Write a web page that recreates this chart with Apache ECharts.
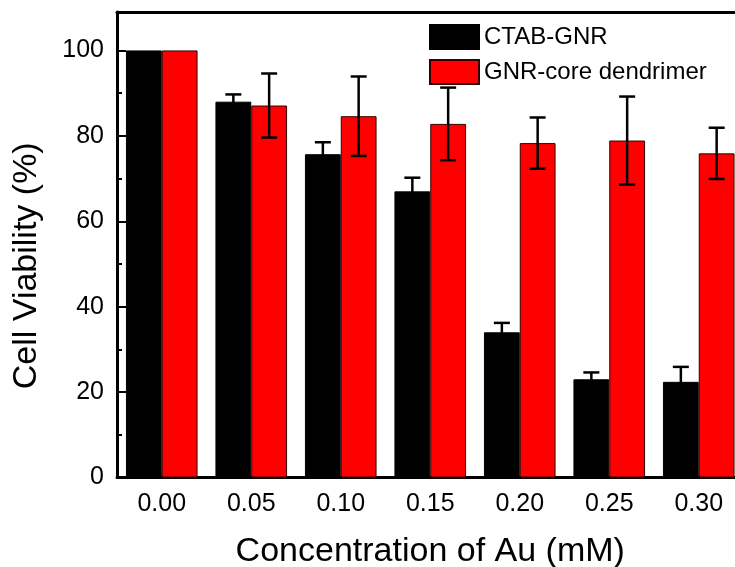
<!DOCTYPE html>
<html>
<head>
<meta charset="utf-8">
<title>Cell viability</title>
<script src="https://cdn.jsdelivr.net/npm/echarts@6/dist/echarts.min.js"></script>
</head>
<body style="margin:0;padding:0;background:#fff">
<div id="chart" style="width:735px;height:567px"></div>
<script>
var concentrations = ['0.00', '0.05', '0.10', '0.15', '0.20', '0.25', '0.30'];
var ctab = [100, 88.0, 75.7, 67.0, 34.0, 23.0, 22.4];
var ctabErr = [0, 1.7, 2.8, 3.2, 2.2, 1.6, 3.5];
var dend = [100, 87.1, 84.6, 82.8, 78.3, 78.9, 75.9];
var dendErr = [0, 7.5, 9.3, 8.5, 6.0, 10.3, 6.0];

var font = 'Arial, "Liberation Sans", sans-serif';

function errData(vals, errs) {
  return vals.map(function (v, i) {
    return [i, v - errs[i], v + errs[i], errs[i]];
  });
}

function errRenderer(offset) {
  return function (params, api) {
    if (api.value(3) === 0) return;
    var bw = api.size([1, 0])[0];
    var top = api.coord([api.value(0), api.value(2)]);
    var bot = api.coord([api.value(0), api.value(1)]);
    var x = top[0] + offset * bw;
    var cap = 8;
    var style = { stroke: '#000', lineWidth: 2.5 };
    return {
      type: 'group',
      children: [
        { type: 'line', shape: { x1: x, y1: top[1], x2: x, y2: bot[1] }, style: style },
        { type: 'line', shape: { x1: x - cap, y1: top[1], x2: x + cap, y2: top[1] }, style: style },
        { type: 'line', shape: { x1: x - cap, y1: bot[1], x2: x + cap, y2: bot[1] }, style: style }
      ]
    };
  };
}

var chart = echarts.init(document.getElementById('chart'));
chart.setOption({
  animation: false,
  backgroundColor: '#fff',
  textStyle: { fontFamily: font },
  grid: { left: 117, right: -8.5, top: 12, bottom: 89.5, outerBoundsMode: 'none', containLabel: false },
  legend: {
    orient: 'vertical',
    left: 424,
    top: 19,
    itemWidth: 49,
    itemHeight: 24,
    itemGap: 9,
    icon: 'rect',
    textStyle: { fontSize: 24, color: '#000', fontFamily: font },
    data: ['CTAB-GNR', 'GNR-core dendrimer']
  },
  xAxis: [{
    type: 'category',
    data: concentrations,
    name: 'Concentration of Au (mM)',
    nameLocation: 'middle',
    nameGap: 57,
    nameTextStyle: { fontSize: 34, color: '#000', fontFamily: font },
    axisLine: { onZero: false, lineStyle: { color: '#000', width: 3 } },
    axisTick: { length: 3, lineStyle: { color: '#888' } },
    axisLabel: { fontSize: 25, color: '#000', margin: 14, fontFamily: font }
  }, {
    type: 'category',
    data: concentrations,
    position: 'top',
    axisLine: { onZero: false, lineStyle: { color: '#000', width: 3 } },
    axisTick: { inside: true, length: 2, lineStyle: { color: '#aaa' } },
    axisLabel: { show: false }
  }],
  yAxis: [{
    type: 'value',
    min: 0,
    max: 109,
    interval: 20,
    name: 'Cell Viability (%)',
    nameLocation: 'middle',
    nameGap: 73,
    nameTextStyle: { fontSize: 34, color: '#000', fontFamily: font, padding: [0, 42, 0, 0] },
    axisLine: { show: true, onZero: false, lineStyle: { color: '#000', width: 3 } },
    axisTick: { show: true, inside: true, length: 9, lineStyle: { color: '#000', width: 2 } },
    axisLabel: {
      fontSize: 25, color: '#000', margin: 13, fontFamily: font,
      formatter: function (v) { return v % 20 === 0 ? String(v) : ''; }
    },
    splitLine: { show: false }
  }, {
    type: 'value',
    min: 0,
    max: 109,
    interval: 10,
    position: 'left',
    axisLine: { show: false },
    axisTick: { show: true, inside: true, length: 5, lineStyle: { color: '#000', width: 2 } },
    axisLabel: { show: false },
    splitLine: { show: false }
  }],
  series: [{
    name: 'CTAB-GNR',
    type: 'bar',
    data: ctab,
    barWidth: '40%',
    barGap: '0%',
    itemStyle: { color: '#000', borderColor: '#000', borderWidth: 1 }
  }, {
    name: 'GNR-core dendrimer',
    type: 'bar',
    data: dend,
    barWidth: '40%',
    barGap: '0%',
    itemStyle: { color: '#ff0000', borderColor: '#300', borderWidth: 1 }
  }, {
    type: 'custom',
    data: errData(ctab, ctabErr),
    encode: { x: 0, y: [1, 2] },
    renderItem: errRenderer(-0.2),
    z: 5
  }, {
    type: 'custom',
    data: errData(dend, dendErr),
    encode: { x: 0, y: [1, 2] },
    renderItem: errRenderer(0.2),
    z: 5
  }]
});
</script>
</body>
</html>
